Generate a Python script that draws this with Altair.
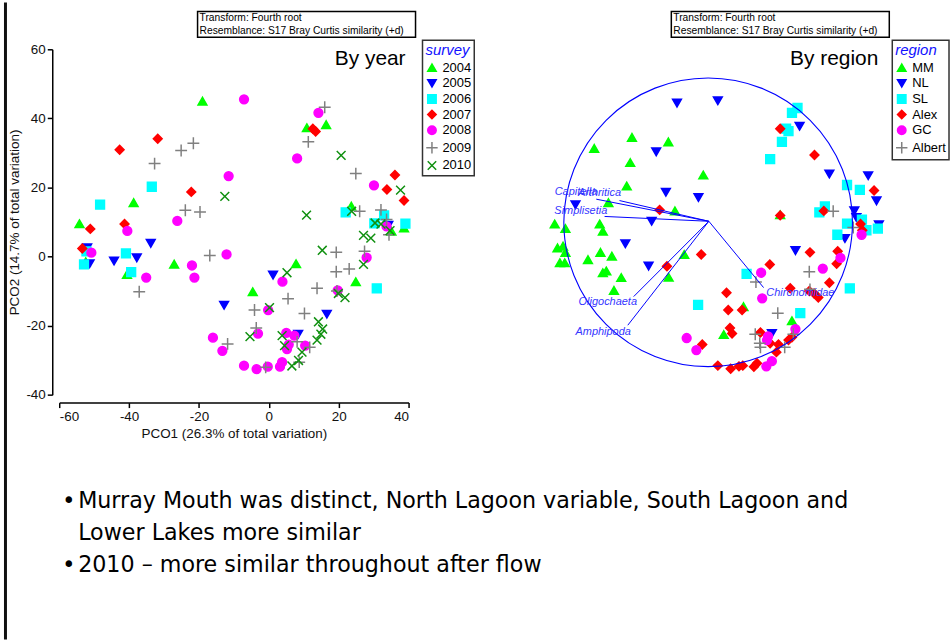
import altair as alt
import pandas as pd

FONT = "Liberation Sans"
BODY_FONT = "DejaVu Sans"

# ---------------- left panel: by survey year ----------------
SURVEYS = ["2004", "2005", "2006", "2007", "2008", "2009", "2010"]
S2004 = [(-19.0, 45.0), (10.9, 37.3), (16.4, 38.2), (-38.7, 15.6), (-54.2, 9.5), (-52.4, -1.5),
         (-40.6, -5.2), (-27.1, -2.2), (-4.6, -10.2), (7.8, -2.1), (24.9, -7.3), (23.6, 14.6),
         (35.1, 7.3), (38.7, 8.3)]
S2005 = [(-33.8, 3.8), (-52.0, 2.5), (-51.3, -2.1), (-44.3, -1.3), (-37.8, -0.4), (-12.8, -14.1),
         (1.2, -5.4), (16.6, -16.7), (8.4, -22.5), (34.2, 9.0)]
S2006 = [(-33.5, 20.2), (-48.3, 15.0), (-52.2, 1.5), (-52.9, -2.3), (-40.9, 0.9), (-39.4, -4.5),
         (22.0, 12.8), (33.0, 11.9), (30.2, 9.6), (39.1, 9.5), (30.9, -9.2)]
S2007 = [(-31.8, 34.1), (-42.7, 30.9), (-22.2, 18.7), (-41.3, 9.4), (-51.1, 8.0), (-53.4, 2.3),
         (12.6, 37.0), (13.4, 36.2), (36.1, 23.6), (33.8, 19.4), (38.7, 16.2)]
S2008 = [(-7.1, 45.5), (14.2, 41.6), (8.1, 28.4), (-11.5, 23.3), (-26.2, 10.3), (-40.5, 7.4),
         (-50.8, 1.1), (-35.1, -6.1), (-22.0, -2.6), (-21.3, -6.1), (-12.1, 0.6), (-16.0, -23.5),
         (-13.3, -27.3), (30.1, 20.6), (33.7, 8.7), (28.0, -0.3), (3.9, -7.3), (19.7, -9.8),
         (-0.2, -15.5), (-3.1, -22.3), (5.0, -22.1), (7.3, -22.9), (10.4, -25.8), (5.7, -25.5),
         (5.2, -26.8), (3.8, -30.6), (3.2, -31.9), (-0.3, -31.9), (-3.5, -32.6), (-7.1, -31.6)]
S2009 = [(16.0, 43.2), (11.3, 33.2), (24.9, 24.0), (-32.7, 26.9), (-25.1, 30.7), (-21.6, 32.8),
         (-23.9, 13.4), (-19.7, 12.9), (-16.9, 0.3), (-37.1, -10.2), (-11.8, -25.3), (26.0, 13.1),
         (32.1, 13.5), (33.7, 10.7), (34.4, 6.3), (19.3, 1.2), (27.4, 1.5), (19.3, -4.4),
         (23.0, -3.6), (13.8, -9.2), (19.5, -10.0), (5.5, -12.2), (-4.1, -15.5), (10.2, -16.5),
         (-3.6, -20.7), (8.1, -24.7), (11.7, -26.3), (8.7, -30.6), (-0.9, -32.1)]
S2010 = [(20.7, 29.3), (37.7, 19.2), (10.8, 12.0), (-12.6, 17.4), (23.7, 13.1), (30.4, 9.7),
         (32.1, 9.4), (34.7, 7.5), (27.1, 6.1), (29.2, 5.3), (15.3, 1.8), (27.1, -2.3),
         (5.2, -4.7), (19.9, -10.7), (21.8, -11.9), (0.2, -14.8), (14.2, -18.9), (15.4, -21.0),
         (14.9, -22.5), (13.8, -24.2), (-5.4, -23.2), (3.8, -22.9), (4.5, -25.8), (9.5, -27.7),
         (8.5, -30.1), (6.6, -31.7)]
SURVEY_POINTS = [S2004, S2005, S2006, S2007, S2008, S2009, S2010]

# ---------------- right panel: by region ----------------
REGIONS = ["MM", "NL", "SL", "Alex", "GC", "Albert"]
R_MM = [(-32.0, 34.5), (-42.9, 31.3), (-21.5, 33.2), (-32.5, 27.2), (-33.5, 20.4), (-11.4, 23.6),
        (-38.8, 15.6), (-19.6, 13.2), (-54.3, 9.4), (-51.2, 8.1), (-41.3, 9.4), (-40.4, 7.3),
        (-53.5, 2.5), (-51.9, 3.0), (-51.2, 1.2), (-52.8, -1.8), (-51.4, -1.8), (-44.7, -0.9),
        (-41.1, 1.2), (-37.8, 0.1), (-40.4, -4.7), (-39.4, -4.2), (-35.1, -6.1), (-37.2, -9.8),
        (-16.9, 0.6), (-21.4, -6.0), (0.2, -14.5), (14.2, -18.6), (10.8, 12.1), (-5.5, -22.6)]
R_NL = [(-19.0, 44.4), (-7.2, 45.1), (-25.0, 30.3), (-22.2, 18.6), (-12.8, 17.1), (-48.3, 15.0),
        (-26.3, 10.2), (-33.9, 3.7), (-27.2, -2.8), (16.4, 37.7), (25.0, 23.9), (36.2, 23.4),
        (38.6, 16.1), (32.2, 13.2), (32.8, 11.3), (39.3, 9.2), (29.5, 5.2), (15.2, 1.7),
        (8.4, -22.3)]
R_SL = [(15.8, 43.0), (14.2, 41.6), (12.5, 37.0), (13.2, 36.3), (11.3, 33.2), (7.9, 28.2),
        (30.1, 20.7), (33.8, 19.3), (23.7, 14.5), (22.1, 12.8), (30.1, 9.5), (34.4, 10.7),
        (35.7, 7.6), (39.0, 8.1), (27.3, 6.3), (1.1, -5.0), (30.9, -9.2), (16.6, -16.4),
        (-12.9, -14.0)]
R_ALEX = [(10.8, 37.0), (20.7, 29.4), (37.9, 19.1), (23.4, 13.2), (10.8, 11.9), (34.0, 9.4),
          (34.5, 7.6), (-24.0, 13.5), (-12.0, 0.6), (-21.9, -2.8), (-4.7, -10.5), (-4.2, -15.5),
          (-0.2, -15.5), (-3.7, -20.7), (-3.1, -22.3), (-11.7, -25.5), (-7.2, -31.6), (-3.5, -32.5),
          (-1.1, -31.8), (0.0, -31.6), (19.4, 1.2), (27.4, 1.5), (7.8, -2.3), (27.1, -2.1),
          (25.0, -7.6), (13.7, -9.2), (19.2, -10.0), (20.6, -10.7), (21.8, -11.9), (5.1, -22.0),
          (7.9, -25.1), (10.3, -25.5), (9.7, -27.7), (13.2, -24.2), (14.2, -23.4), (4.1, -30.9),
          (3.2, -31.9)]
R_GC = [(5.3, -4.7), (5.6, -12.1), (23.1, -3.5), (28.2, -0.4), (34.3, 6.3), (-16.2, -23.6),
        (-13.4, -27.1), (7.3, -23.1), (7.0, -24.2), (15.2, -21.0), (8.4, -30.3), (6.8, -31.8)]
R_ALBERT = [(26.1, 13.1), (31.9, 8.4), (19.2, -4.4), (19.4, -9.5), (3.8, -7.4), (10.1, -16.4),
            (3.6, -22.5), (4.9, -25.1), (5.1, -26.3), (12.1, -26.3), (14.6, -22.5)]
REGION_POINTS = [R_MM, R_NL, R_SL, R_ALEX, R_GC, R_ALBERT]

# biplot vectors (species correlations)
VEC_NAMES = ["Capitella", "Arthritica", "Simplisetia", "Oligochaeta", "Amphipoda", "Chironomidae"]
VEC_END_X = [-42.3, -35.6, -39.9, -31.5, -33.2, 6.0]
VEC_END_Y = [16.6, 16.2, 11.6, -11.6, -19.9, -9.0]
VEC_ORIGIN_X = [-9.8] * 6
VEC_ORIGIN_Y = [10.2] * 6
VEC_LABEL_X = [-54.3, -47.6, -54.4, -47.4, -48.3, 6.8]
VEC_LABEL_Y = [18.8, 18.3, 13.3, -13.3, -21.8, -10.7]
CIRCLE_CENTER = [(-10.0, 9.9)]

X_TICKS = [-60, -40, -20, 0, 20, 40]
Y_TICKS = [-40, -20, 0, 20, 40, 60]

BULLET_TEXT = ["Murray Mouth was distinct, North Lagoon variable, South Lagoon and",
               "Lower Lakes more similar",
               "2010 – more similar throughout after flow"]
BULLET_MARK = [True, False, True]
ANNOT = ["Transform: Fourth root", "Resemblance: S17 Bray Curtis similarity (+d)"]

# ---------------- styling ----------------
GREEN, BLUE, CYAN, RED, MAGENTA, GREY, DKGREEN = ("#00ff00", "#0000ff", "#00ffff", "#ff0000",
                                                 "#ff00ff", "#808080", "#109010")
PLUS = "M-1.35,0H1.35M0,-1.35V1.35"
CROSS = "M-1,-1L1,1M-1,1L1,-1"

left_df = pd.DataFrame([{"survey": s, "x": p[0], "y": p[1]}
                        for s, pts in zip(SURVEYS, SURVEY_POINTS) for p in pts])
right_df = pd.DataFrame([{"region": r, "x": p[0], "y": p[1]}
                         for r, pts in zip(REGIONS, REGION_POINTS) for p in pts])
vec_df = pd.DataFrame({"name": VEC_NAMES, "x0": VEC_ORIGIN_X, "y0": VEC_ORIGIN_Y,
                       "x1": VEC_END_X, "y1": VEC_END_Y, "lx": VEC_LABEL_X, "ly": VEC_LABEL_Y})
circ_df = pd.DataFrame([{"x": c[0], "y": c[1]} for c in CIRCLE_CENTER])
one = pd.DataFrame({"k": [0]})

XS = alt.Scale(domain=[-60, 40], nice=False, zero=False)
YS = alt.Scale(domain=[-40, 60], nice=False, zero=False)
X_AXIS = alt.Axis(values=X_TICKS, title="PCO1 (26.3% of total variation)", offset=8,
                  labelExpr="'' + datum.value")
Y_AXIS = alt.Axis(values=Y_TICKS, title="PCO2 (14.7% of total variation)", offset=7,
                  labelExpr="'' + datum.value")


def scatter(df, field, domain, fills, strokes, shapes, legend_x):
    leg = alt.Legend(orient="none", legendX=legend_x, legendY=-9, title=field)
    return alt.Chart(df).mark_point(size=78, strokeWidth=1.5, opacity=1).encode(
        x=alt.X("x:Q", scale=XS, axis=X_AXIS),
        y=alt.Y("y:Q", scale=YS, axis=Y_AXIS),
        fill=alt.Fill(f"{field}:N", scale=alt.Scale(domain=domain, range=fills), legend=leg),
        stroke=alt.Stroke(f"{field}:N", scale=alt.Scale(domain=domain, range=strokes), legend=leg),
        shape=alt.Shape(f"{field}:N", scale=alt.Scale(domain=domain, range=shapes), legend=leg),
    )


def annotation(box_x, title, title_x):
    box = alt.Chart(one).mark_rect(fill="white", stroke="black", strokeWidth=1.5).encode(
        x=alt.value(box_x), x2=alt.value(box_x + 219), y=alt.value(-38), y2=alt.value(-12))
    t1 = alt.Chart(one).mark_text(align="left", baseline="middle", font=FONT, fontSize=10.3,
                                  color="black").encode(
        x=alt.value(box_x + 2), y=alt.value(-31.4), text=alt.value(ANNOT[0]))
    t2 = alt.Chart(one).mark_text(align="left", baseline="middle", font=FONT, fontSize=10.3,
                                  color="black").encode(
        x=alt.value(box_x + 2), y=alt.value(-18.6), text=alt.value(ANNOT[1]))
    big = alt.Chart(one).mark_text(align="right", baseline="alphabetic", font=FONT, fontSize=21,
                                   color="black").encode(
        x=alt.value(title_x), y=alt.value(16), text=alt.value(title))
    return [box, t1, t2, big]


left_pts = scatter(left_df, "survey", SURVEYS,
                   [GREEN, BLUE, CYAN, RED, MAGENTA, "transparent", "transparent"],
                   [GREEN, BLUE, CYAN, RED, MAGENTA, GREY, DKGREEN],
                   ["triangle-up", "triangle-down", "square", "diamond", "circle", PLUS, CROSS],
                   365)

border = alt.Chart(one).mark_rect(fill="#111111").encode(
    x=alt.value(-55.5), x2=alt.value(-52.5), y=alt.value(-47), y2=alt.value(593))

bullet_layers = []
for txt, has_bullet, by in zip(BULLET_TEXT, BULLET_MARK, [461, 493, 525]):
    bullet_layers.append(
        alt.Chart(one).mark_text(align="left", baseline="alphabetic", font=BODY_FONT, fontSize=22.3,
                                 color="black").encode(
            x=alt.value(19), y=alt.value(by), text=alt.value(txt)))
    if has_bullet:
        bullet_layers.append(
            alt.Chart(one).mark_text(align="center", baseline="alphabetic", font=BODY_FONT,
                                     fontSize=22.3, color="black").encode(
                x=alt.value(9.5), y=alt.value(by), text=alt.value("•")))

left = alt.layer(left_pts, *annotation(139, "By year", 348), border, *bullet_layers).properties(
    width=351, height=347)

right_pts = scatter(right_df, "region", REGIONS,
                    [GREEN, BLUE, CYAN, RED, MAGENTA, "transparent"],
                    [GREEN, BLUE, CYAN, RED, MAGENTA, GREY],
                    ["triangle-up", "triangle-down", "square", "diamond", "circle", PLUS],
                    359)

circle = alt.Chart(circ_df).mark_point(shape="circle", size=84100, filled=False, stroke=BLUE,
                                       strokeWidth=1.1, opacity=1).encode(
    x=alt.X("x:Q", scale=XS, axis=None), y=alt.Y("y:Q", scale=YS, axis=None))
vectors = alt.Chart(vec_df).mark_rule(color=BLUE, strokeWidth=1).encode(
    x=alt.X("x0:Q", scale=XS, axis=None), y=alt.Y("y0:Q", scale=YS, axis=None),
    x2="x1:Q", y2="y1:Q")
vec_labels = alt.Chart(vec_df).mark_text(align="left", baseline="middle", font=FONT, fontSize=11,
                                         fontStyle="italic", color="#3535ff").encode(
    x=alt.X("lx:Q", scale=XS, axis=None), y=alt.Y("ly:Q", scale=YS, axis=None), text="name:N")

right = alt.layer(right_pts, circle, vectors, vec_labels, *annotation(137, "By region", 345)).properties(
    width=348, height=347)

chart = alt.hconcat(left, right, spacing=127, bounds="flush").resolve_scale(
    x="independent", y="independent", fill="independent", stroke="independent",
    shape="independent").configure(
    padding={"left": 3.5, "top": 0, "right": 0, "bottom": 0}, font=FONT
).configure_view(stroke="transparent").configure_axis(
    labelFont=FONT, labelFontSize=13.5, labelColor="#111111", labelPadding=2,
    titleFont=FONT, titleFontSize=13.5, titleFontWeight="normal", titleColor="#111111",
    titlePadding=4, domainColor="black", domainWidth=1.5, tickColor="black", tickWidth=1.5,
    tickSize=5, grid=False
).configure_legend(
    titleFont=FONT, titleFontSize=15, titleFontStyle="italic", titleFontWeight="normal",
    titleColor="#1010ff", titlePadding=3, labelFont=FONT, labelFontSize=13, labelColor="black",
    labelOffset=4, strokeColor="#333333", strokeWidth=1.5, fillColor="white", padding=3,
    rowPadding=0.7, symbolSize=72, symbolStrokeWidth=1.5
)

chart.save("out.html", embed_options={"renderer": "svg", "actions": False})
